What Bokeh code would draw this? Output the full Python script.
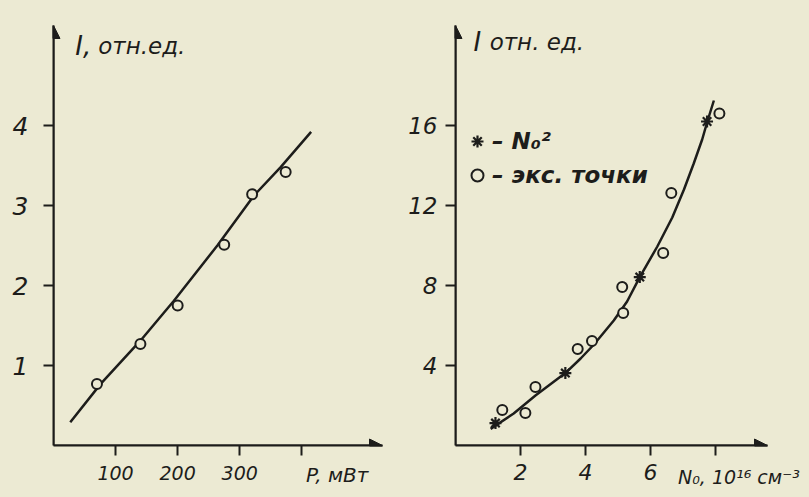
from bokeh.plotting import figure
from bokeh.models import (Range1d, FixedTicker, Arrow, NormalHead, Label, Legend, LegendItem,
                          LinearAxis)
from bokeh.layouts import row
from bokeh.embed import file_html
from bokeh.resources import INLINE

# ---------------- data: left panel (I vs P) ----------------
power_mw = [70, 140, 200, 275, 320, 374]
power_intensity = [0.77, 1.27, 1.75, 2.51, 3.14, 3.42]
power_fit_x = [27, 76, 140, 194, 264, 323, 366, 415]
power_fit_y = [0.29, 0.77, 1.31, 1.81, 2.50, 3.125, 3.48, 3.92]
left_xticks = [100, 200, 300, 400]
left_xlabels = ["100", "200", "300", ""]
left_name_tick = [457]
left_name = ["P, мВт"]
left_yticks = [1, 2, 3, 4]

# ---------------- data: right panel (I vs N0) ----------------
exp_n0 = [1.44, 2.15, 2.46, 3.76, 4.20, 5.13, 5.16, 6.39, 6.64, 8.12]
exp_intensity = [1.78, 1.62, 2.92, 4.83, 5.22, 7.92, 6.62, 9.63, 12.63, 16.6]
sq_n0 = [1.23, 3.38, 5.67, 7.74]
sq_intensity = [1.12, 3.62, 8.42, 16.2]
curve_n0 = [1.08, 1.79, 2.46, 3.38, 3.85, 4.26, 4.87, 5.28, 5.67, 6.21, 6.67, 7.03, 7.33, 7.59, 7.74, 7.95]
curve_intensity = [0.83, 1.6, 2.5, 3.62, 4.35, 5.05, 6.25, 7.2, 8.42, 9.95, 11.4, 12.8, 14.1, 15.3, 16.15, 17.25]
right_xticks = [2, 4, 6, 8]
right_xlabels = ["2", "4", "6", ""]
right_name_tick = [8.72]
right_name = ["N₀, 10¹⁶ см⁻³"]
right_yticks = [4, 8, 12, 16]

INK = "#1d1d1b"
PAPER = "#ecead3"
FONT = "DejaVu Sans"


def style(p, xticks, xlabels, yticks, xfont, xstandoff, yfont, ystandoff,
          name_tick, name, name_font, name_standoff):
    p.background_fill_color = PAPER
    p.border_fill_color = PAPER
    p.outline_line_color = None
    p.xgrid.visible = False
    p.ygrid.visible = False
    p.xaxis.ticker = FixedTicker(ticks=xticks)
    p.xaxis.major_label_overrides = {t: l for t, l in zip(xticks, xlabels)}
    p.yaxis.ticker = FixedTicker(ticks=yticks)
    for ax in p.axis:
        ax.axis_line_color = INK
        ax.axis_line_width = 2
        ax.major_tick_line_color = INK
        ax.major_tick_line_width = 2
        ax.major_tick_in = 0
        ax.major_tick_out = 10
        ax.minor_tick_line_color = None
        ax.major_label_text_font = FONT
        ax.major_label_text_font_style = "italic"
        ax.major_label_text_color = INK
    p.xaxis.major_label_text_font_size = xfont
    p.xaxis.major_label_standoff = xstandoff
    p.yaxis.major_label_text_font_size = yfont
    p.yaxis.major_label_standoff = ystandoff
    # extra axis (no line, no ticks) carrying the name of the x quantity
    lab = LinearAxis(ticker=FixedTicker(ticks=name_tick),
                     major_label_overrides={t: l for t, l in zip(name_tick, name)},
                     axis_line_color=None, major_tick_line_color=None, minor_tick_line_color=None,
                     major_tick_in=0, major_tick_out=0, major_label_standoff=name_standoff,
                     major_label_text_font=FONT, major_label_text_font_style="italic",
                     major_label_text_font_size=name_font, major_label_text_color=INK)
    p.add_layout(lab, "below")
    head = dict(size=13, fill_color=INK, line_color=INK)
    p.add_layout(Arrow(end=NormalHead(**head), x_start=p.x_range.start, y_start=p.y_range.start,
                       x_end=p.x_range.start, y_end=p.y_range.end, line_color=INK, line_width=2))
    p.add_layout(Arrow(end=NormalHead(**head), x_start=p.x_range.start, y_start=p.y_range.start,
                       x_end=p.x_range.end, y_end=p.y_range.start, line_color=INK, line_width=2))


def text(p, x, y, s, size):
    p.add_layout(Label(x=x, y=y, text=s, text_font=FONT, text_font_style="italic",
                       text_font_size=size, text_color=INK, text_baseline="alphabetic"))


# ---------------- left figure ----------------
left = figure(width=400, height=497, x_range=Range1d(0, 530), y_range=Range1d(0, 5.25),
              min_border_left=53, min_border_right=18, min_border_top=25, min_border_bottom=52,
              toolbar_location=None, output_backend="svg")
style(left, left_xticks, left_xlabels, left_yticks, "19px", 10, "25px", 15,
      left_name_tick, left_name, "20px", -20)
left.line(power_fit_x, power_fit_y, line_color=INK, line_width=2.5)
left.scatter(power_mw, power_intensity, marker="circle", size=10, fill_color=PAPER,
             line_color=INK, line_width=2)
text(left, 35, 5.0, "I,", "26px")
text(left, 72, 5.0, "отн.ед.", "23px")

# ---------------- right figure ----------------
right = figure(width=409, height=497, x_range=Range1d(0, 9.6), y_range=Range1d(0, 21),
               min_border_left=55, min_border_right=42, min_border_top=25, min_border_bottom=52,
               toolbar_location=None, output_backend="svg")
style(right, right_xticks, right_xlabels, right_yticks, "22px", 8, "23px", 8,
      right_name_tick, right_name, "19px", -17)
right.line(curve_n0, curve_intensity, line_color=INK, line_width=2.5)
r_sq = right.scatter(sq_n0, sq_intensity, marker="asterisk", size=12, line_color=INK, line_width=2.2)
r_exp = right.scatter(exp_n0, exp_intensity, marker="circle", size=10, fill_color=PAPER,
                      line_color=INK, line_width=2)
legend = Legend(items=[LegendItem(label="– N₀²", renderers=[r_sq]),
                       LegendItem(label="– экс. точки", renderers=[r_exp])],
                location=(7, 255), background_fill_alpha=0, border_line_alpha=0,
                label_text_font=FONT, label_text_font_style="bold italic",
                label_text_font_size="23px", label_text_color=INK,
                glyph_width=30, glyph_height=30, label_standoff=0, spacing=4, padding=0, margin=0)
right.add_layout(legend)
text(right, 0.55, 20.2, "I", "26px")
text(right, 1.05, 20.2, "отн. ед.", "23px")

layout = row(left, right, styles={"background-color": PAPER})
open("out.html", "w").write(file_html(layout, INLINE))
